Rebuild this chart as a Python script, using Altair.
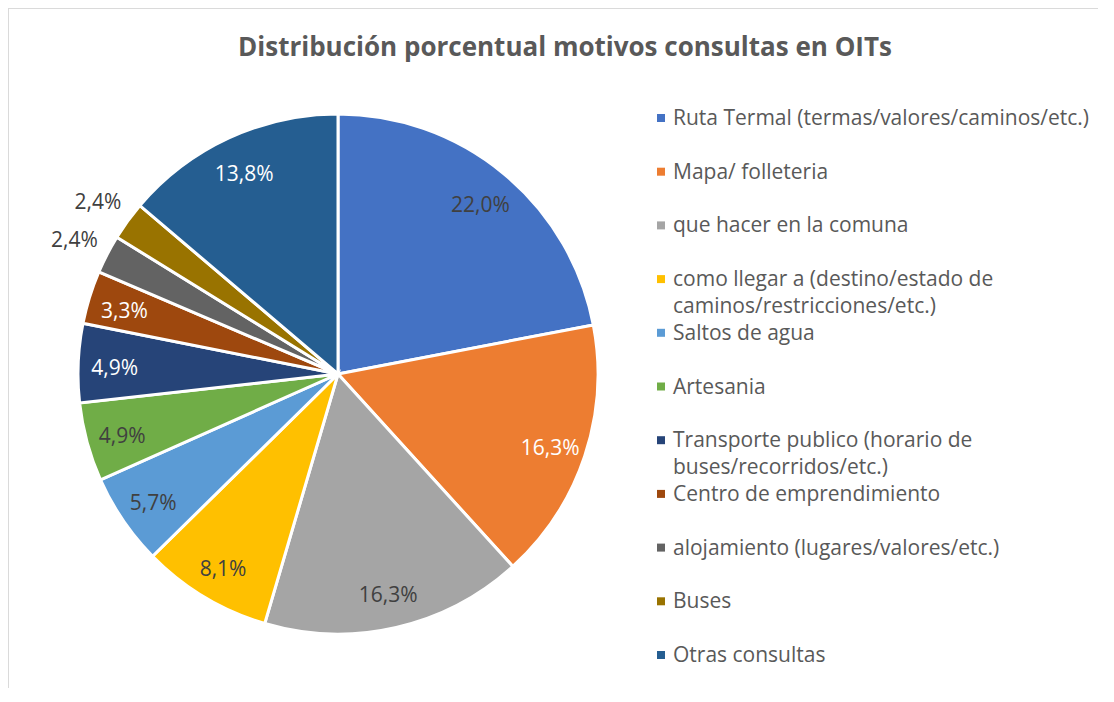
import altair as alt
import pandas as pd

# ---------------- data ----------------
CATEGORIES = [
    "Ruta Termal (termas/valores/caminos/etc.)",
    "Mapa/ folleteria",
    "que hacer en la comuna",
    "como llegar a (destino/estado de caminos/restricciones/etc.)",
    "Saltos de agua",
    "Artesania",
    "Transporte publico (horario de buses/recorridos/etc.)",
    "Centro de emprendimiento",
    "alojamiento (lugares/valores/etc.)",
    "Buses",
    "Otras consultas",
]
PERCENTS = [22.0, 16.3, 16.3, 8.1, 5.7, 4.9, 4.9, 3.3, 2.4, 2.4, 13.8]
LEGEND_TEXT = [
    "Ruta Termal (termas/valores/caminos/etc.)",
    "Mapa/ folleteria",
    "que hacer en la comuna",
    "como llegar a (destino/estado de\ncaminos/restricciones/etc.)",
    "Saltos de agua",
    "Artesania",
    "Transporte publico (horario de\nbuses/recorridos/etc.)",
    "Centro de emprendimiento",
    "alojamiento (lugares/valores/etc.)",
    "Buses",
    "Otras consultas",
]
TITLE = "Distribución porcentual motivos consultas en OITs"

# ---------------- styles ----------------
COLORS = ["#4472C4", "#ED7D31", "#A5A5A5", "#FFC000", "#5B9BD5", "#70AD47",
          "#264478", "#9E480E", "#636363", "#997300", "#255E91"]
WHITE_LABELS = ["Mapa/ folleteria",
                "Transporte publico (horario de buses/recorridos/etc.)",
                "Centro de emprendimiento", "Otras consultas"]
OUTSIDE_LABELS = ["alojamiento (lugares/valores/etc.)", "Buses"]
FONT = "Open Sans"
W, H = 1090, 680
CX, CY, R = 330, 366, 260

df = pd.DataFrame({
    "idx": list(range(len(CATEGORIES))),
    "category": CATEGORIES,
    "value": PERCENTS,
    "legend": LEGEND_TEXT,
})
df["label"] = [f"{v:.1f}".replace(".", ",") + "%" for v in PERCENTS]

color = alt.Color("category:N", scale=alt.Scale(domain=CATEGORIES, range=COLORS), legend=None)

base = alt.Chart(df)

arcs = base.mark_arc(outerRadius=R, stroke="white", strokeWidth=3).encode(
    theta=alt.Theta("value:Q", stack=True),
    order=alt.Order("idx:Q"),
    color=color,
    x=alt.value(CX), y=alt.value(CY),
)

labels = base.transform_joinaggregate(
    total="sum(value)"
).transform_window(
    cum="sum(value)", sort=[alt.SortField("idx")], frame=[None, 0]
).transform_calculate(
    mid="2 * PI * (datum.cum - datum.value / 2) / datum.total",
    r=f"indexof({OUTSIDE_LABELS!r}, datum.category) >= 0 ? {R*1.142} : {R*0.86}",
).mark_text(font=FONT, fontSize=21, align="center", baseline="middle", dy=4).encode(
    theta=alt.Theta("mid:Q", scale=None, stack=None),
    radius=alt.Radius("r:Q", scale=None),
    text="label:N",
    color=alt.condition(alt.FieldOneOfPredicate(field="category", oneOf=WHITE_LABELS),
                        alt.value("white"), alt.value("#404040")),
    x=alt.value(CX), y=alt.value(CY),
)

ly = alt.Y("idx:Q", scale=alt.Scale(domain=[0, 10], range=[110, 647]), axis=None)

leg_sym = base.mark_square(size=64, opacity=1).encode(
    x=alt.value(653), y=ly, color=color,
)
leg_txt = base.mark_text(font=FONT, fontSize=21, align="left", baseline="alphabetic",
                         dy=7, lineBreak="\n", lineHeight=27, color="#595959").encode(
    x=alt.value(665), y=ly, text="legend:N",
)

title = alt.Chart(pd.DataFrame({"t": [TITLE]})).mark_text(
    font=FONT, fontSize=26, fontWeight="bold", color="#595959",
    align="center", baseline="middle").encode(
    x=alt.value(557), y=alt.value(40), text="t:N")

frame = alt.Chart(pd.DataFrame({"t": [0]}))
left_border = frame.mark_rule(color="#d9d9d9", strokeWidth=1.5).encode(
    x=alt.value(0), y=alt.value(0), y2=alt.value(H))
top_border = frame.mark_rule(color="#d9d9d9", strokeWidth=1.5).encode(
    x=alt.value(0), x2=alt.value(W), y=alt.value(0))

chart = alt.layer(arcs, labels, leg_sym, leg_txt, title, left_border, top_border).properties(
    width=W, height=H, padding=0, autosize=alt.AutoSizeParams(type="none"),
).configure_view(stroke=None).configure(background="white")

chart.save("out.html", embed_options={"renderer": "svg", "actions": False})
